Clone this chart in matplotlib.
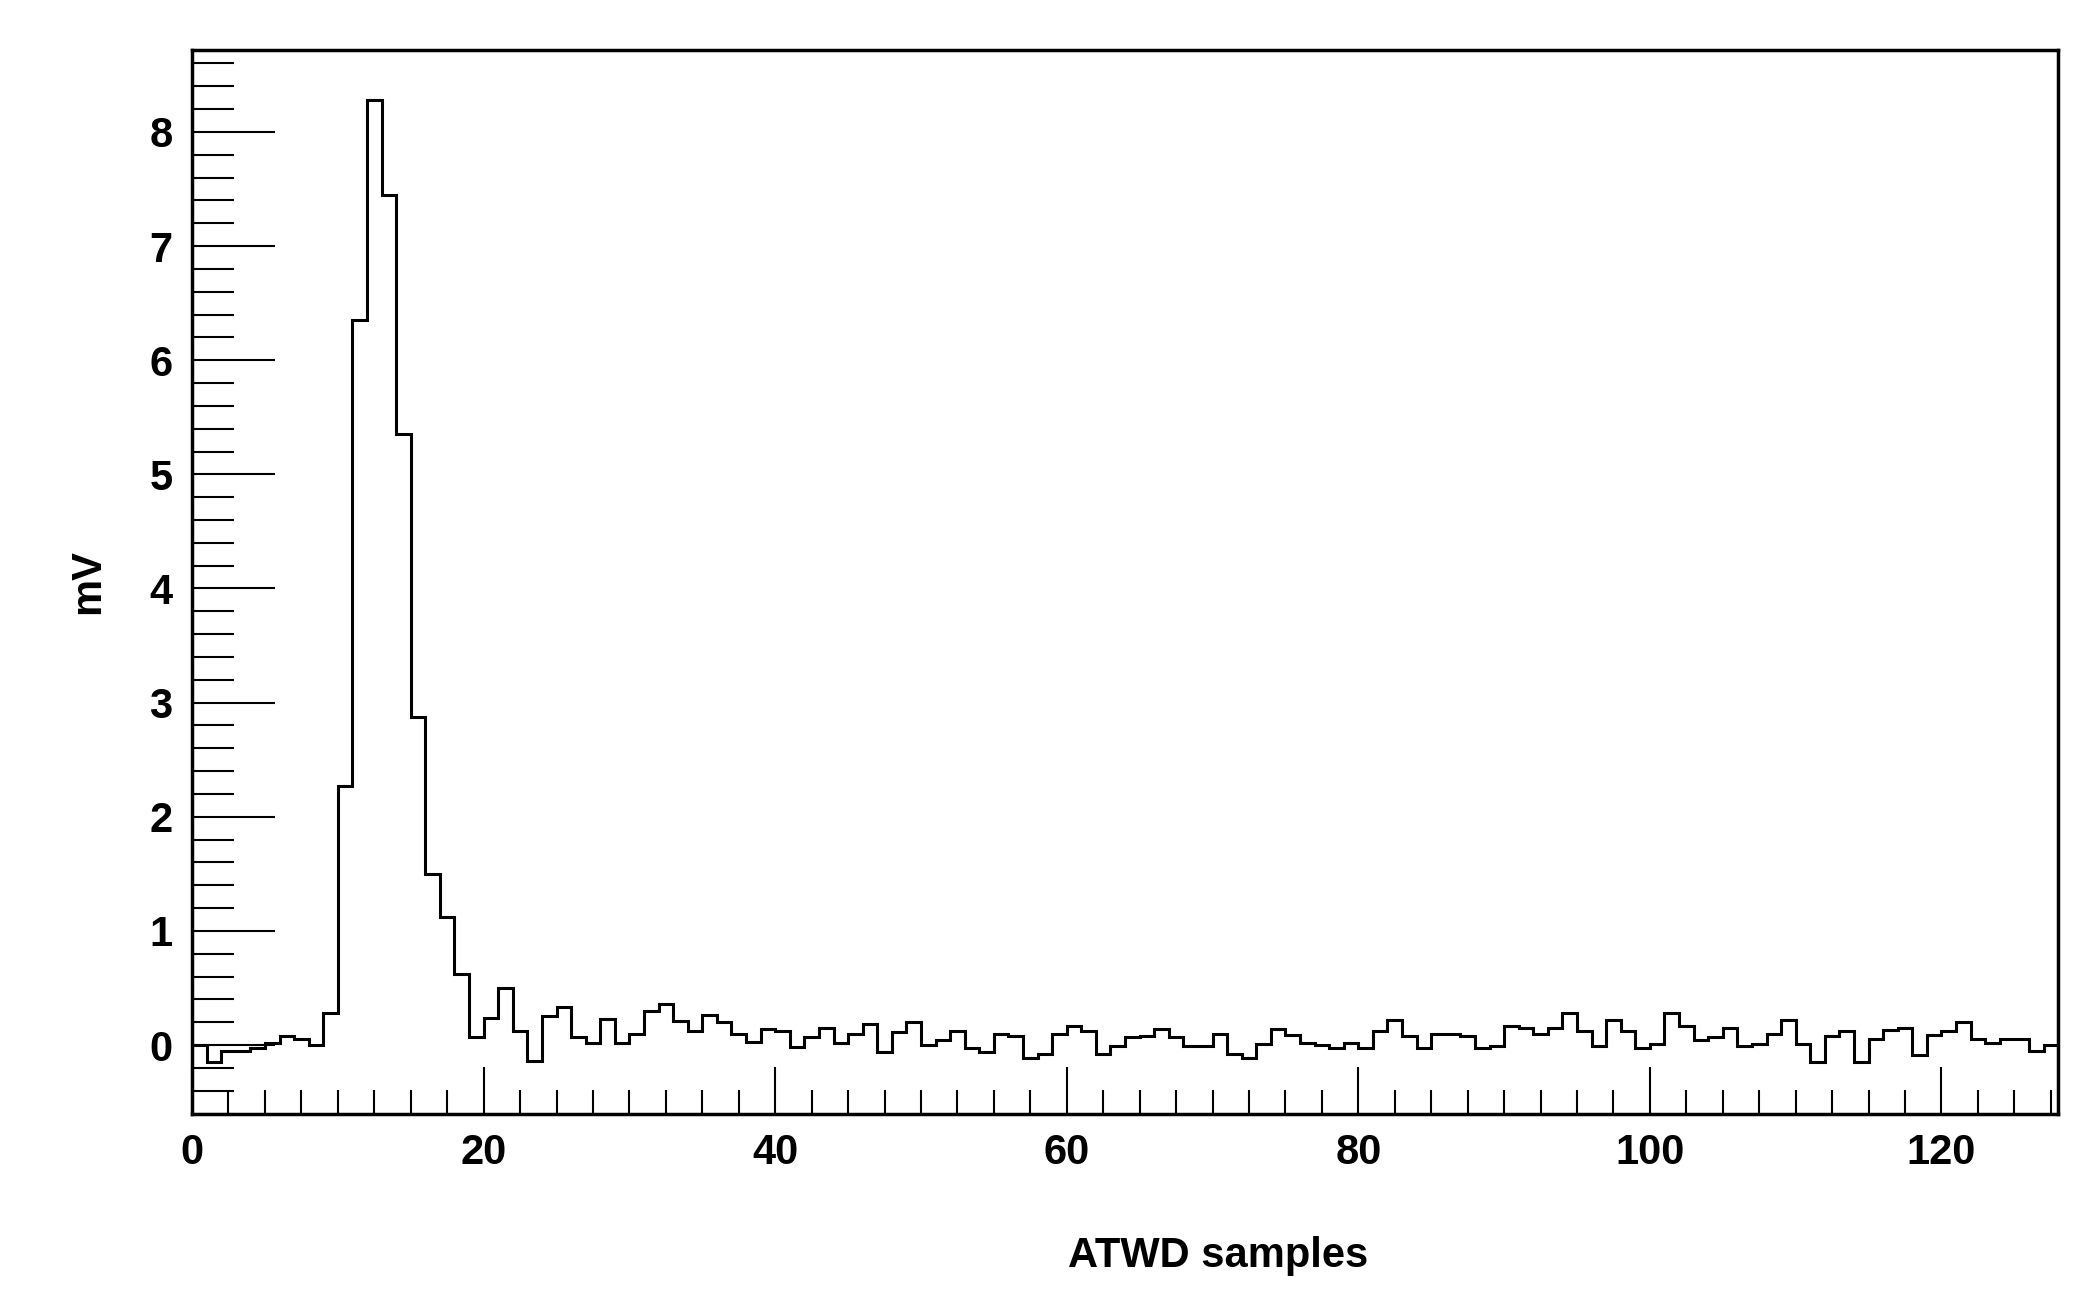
import numpy as np
import matplotlib
matplotlib.use("Agg")
import matplotlib.pyplot as plt
from matplotlib.ticker import MultipleLocator

# ATWD waveform, one value per sample (mV)
mv = [0.0, -0.15, -0.05, -0.05, -0.03, 0.02, 0.08, 0.05, 0.0, 0.28,
      2.27, 6.35, 8.28, 7.45, 5.35, 2.87, 1.5, 1.12, 0.62, 0.07,
      0.24, 0.5, 0.12, -0.14, 0.25, 0.33, 0.07, 0.02, 0.23, 0.02,
      0.1, 0.3, 0.36, 0.21, 0.12, 0.26, 0.2, 0.1, 0.03, 0.14,
      0.12, -0.02, 0.07, 0.15, 0.02, 0.1, 0.18, -0.06, 0.11, 0.2,
      0.0, 0.04, 0.12, -0.03, -0.06, 0.1, 0.08, -0.11, -0.08, 0.1,
      0.17, 0.12, -0.08, -0.01, 0.07, 0.08, 0.14, 0.07, -0.01, -0.01,
      0.1, -0.08, -0.11, 0.01, 0.14, 0.09, 0.02, 0.0, -0.03, 0.02,
      -0.03, 0.12, 0.22, 0.08, -0.03, 0.1, 0.1, 0.08, -0.03, -0.01,
      0.17, 0.15, 0.1, 0.15, 0.28, 0.12, -0.01, 0.22, 0.12, -0.03,
      0.01, 0.28, 0.17, 0.04, 0.07, 0.15, -0.01, 0.01, 0.1, 0.22,
      0.01, -0.15, 0.08, 0.12, -0.15, 0.05, 0.13, 0.15, -0.09, 0.09,
      0.12, 0.2, 0.05, 0.02, 0.05, 0.05, -0.05, 0.0]
edges = np.arange(len(mv) + 1)

plt.rcParams['font.family'] = ['Liberation Sans', 'DejaVu Sans']
plt.rcParams['font.weight'] = 'bold'

fig = plt.figure(figsize=(20.92, 13.1), dpi=100)
ax = fig.add_axes([0.0918, 0.150, 0.892, 0.812])
ax.stairs(mv, edges, color='black', linewidth=2.2)

ax.set_xlim(0, 128)
ax.set_ylim(-0.6, 8.72)
ax.xaxis.set_major_locator(MultipleLocator(20))
ax.xaxis.set_minor_locator(MultipleLocator(2.5))
ax.yaxis.set_major_locator(MultipleLocator(1))
ax.yaxis.set_minor_locator(MultipleLocator(0.2))
ax.tick_params(which='both', direction='in', top=False, right=False,
               labelsize=30, width=1.5, pad=14)
ax.tick_params(which='major', length=60)
ax.tick_params(which='minor', length=30)
ax.tick_params(axis='x', which='major', length=34)
ax.tick_params(axis='x', which='minor', length=17)
for s in ax.spines.values():
    s.set_linewidth(2.5)
for lab in ax.get_xticklabels() + ax.get_yticklabels():
    lab.set_fontweight('bold')

ax.set_xlabel("ATWD samples", fontsize=30, fontweight='bold', labelpad=22)
ax.set_ylabel("mV", fontsize=30, fontweight='bold', labelpad=30)
ax.xaxis.set_label_coords(0.55, -0.115)

fig.savefig("out.png", dpi=100)
